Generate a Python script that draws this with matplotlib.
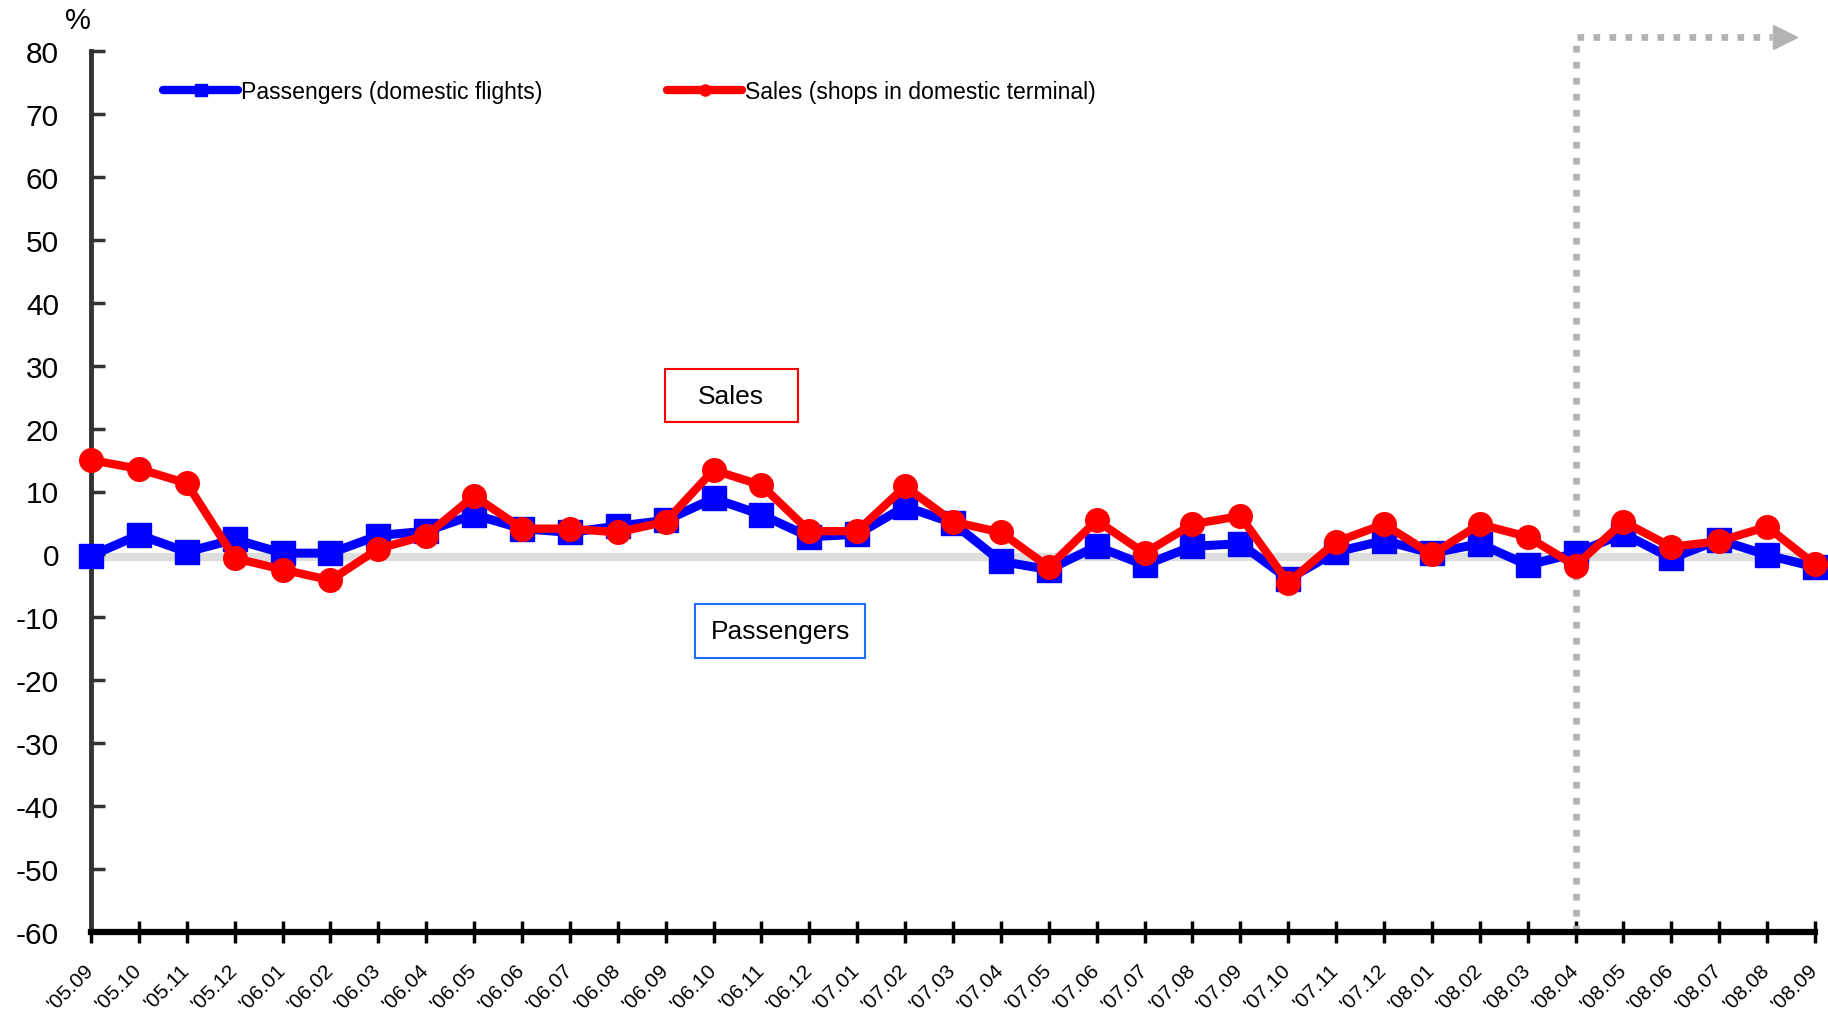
import numpy as np
import matplotlib
matplotlib.use('Agg')
import matplotlib.pyplot as plt
from matplotlib.lines import Line2D
from matplotlib.patches import Rectangle

plt.rcParams['font.family'] = ['Liberation Sans', 'DejaVu Sans']
plt.rcParams['axes.unicode_minus'] = False

# 月別データ（前年同月比, %）
months = ["'05.09", "'05.10", "'05.11", "'05.12",
          "'06.01", "'06.02", "'06.03", "'06.04", "'06.05", "'06.06",
          "'06.07", "'06.08", "'06.09", "'06.10", "'06.11", "'06.12",
          "'07.01", "'07.02", "'07.03", "'07.04", "'07.05", "'07.06",
          "'07.07", "'07.08", "'07.09", "'07.10", "'07.11", "'07.12",
          "'08.01", "'08.02", "'08.03", "'08.04", "'08.05", "'08.06",
          "'08.07", "'08.08", "'08.09"]
passengers = [-0.2, 3.1, 0.4, 2.4, 0.2, 0.2, 3.0, 3.7, 6.3, 4.1,
              3.5, 4.5, 5.4, 8.9, 6.3, 2.8, 3.2, 7.6, 5.0, -1.1,
              -2.4, 1.3, -1.7, 1.3, 1.7, -3.9, 0.4, 2.2, 0.2, 1.7,
              -1.7, 0.2, 3.3, -0.6, 2.3, -0.1, -2.0]
sales = [15.0, 13.6, 11.3, -0.6, -2.4, -4.1, 0.9, 3.0, 9.3, 4.1,
         4.1, 3.5, 5.2, 13.4, 11.0, 3.7, 3.7, 10.8, 5.2, 3.5,
         -2.0, 5.4, 0.2, 4.8, 6.1, -4.5, 2.0, 4.8, 0.0, 4.8,
         2.8, -1.8, 5.2, 1.2, 2.1, 4.4, -1.6]
yticks = list(range(-60, 81, 10))
split_month = 31  # '08.04 以降

W, H = 1828, 1020
fig = plt.figure(figsize=(W / 100, H / 100), dpi=100)
ax = fig.add_axes([91 / W, 1 - 933 / H, (1815 - 91) / W, (933 - 52) / H])

x = np.arange(len(months))
ax.axhline(-0.4, color='#DDDDDD', lw=6, zorder=1)
ax.plot(x, passengers, color='#0000FF', lw=6.5, marker='s', ms=17,
        zorder=4, clip_on=False)
ax.plot(x, sales, color='#FF0000', lw=6, marker='o', ms=17,
        zorder=5, clip_on=False)

# 点線の矢印
ax.plot([split_month, split_month, 35.1], [-60, 82.2, 82.2], color='#B3B3B3',
        lw=4.8, ls=(0, (1, 1.4)), clip_on=False, zorder=2)
ax.plot(35.37, 82.2, marker='>', ms=17, color='#B3B3B3', clip_on=False, zorder=2)

ax.set_xlim(0, 36)
ax.set_ylim(-60, 80)
ax.set_yticks(yticks)
ax.set_xticks(x)
ax.set_xticklabels(months, rotation=45, ha='right', va='center',
                   rotation_mode='anchor', fontsize=15)

for s in ['top', 'right']:
    ax.spines[s].set_visible(False)
ax.spines['left'].set_color('#333333')
ax.spines['left'].set_linewidth(3.5)
ax.spines['bottom'].set_color('black')
ax.spines['bottom'].set_linewidth(4.5)
ax.spines['bottom'].set_zorder(6)
ax.tick_params(axis='y', direction='in', length=10, width=2.5,
               color='#333333', labelsize=21.5, pad=23)
ax.tick_params(axis='x', direction='inout', length=16, width=2.5,
               color='black', pad=17)

# ラベル枠
ax.add_patch(Rectangle((11.99, 21.0), 2.77, 8.4, facecolor='white',
                       edgecolor='#FF0000', lw=1.5, zorder=3))
ax.text(13.37, 25.2, 'Sales', fontsize=19, ha='center', va='center', zorder=3)
ax.add_patch(Rectangle((12.61, -16.4), 3.55, 8.6, facecolor='white',
                       edgecolor='#1E6EFF', lw=1.5, zorder=3))
ax.text(14.39, -12.1, 'Passengers', fontsize=19, ha='center', va='center', zorder=3)

fig.text(78 / W, 1 - 21 / H, '%', fontsize=21, ha='center', va='center')

# 凡例
h1 = Line2D([], [], color='#0000FF', lw=6, marker='s', ms=8, solid_capstyle='round')
h2 = Line2D([], [], color='#FF0000', lw=6, marker='o', ms=8, solid_capstyle='round')
fs = 16.6
hl = 75 / (fs * 100 / 72)
fig.legend([h1], ['Passengers (domestic flights)'], loc='center left',
           bbox_to_anchor=(163 / W, 1 - 93 / H), frameon=False, fontsize=fs,
           handlelength=hl, handletextpad=0.15, borderpad=0, borderaxespad=0)
fig.legend([h2], ['Sales (shops in domestic terminal)'], loc='center left',
           bbox_to_anchor=(667 / W, 1 - 93 / H), frameon=False, fontsize=fs,
           handlelength=hl, handletextpad=0.15, borderpad=0, borderaxespad=0)

fig.savefig('out.png', dpi=100, facecolor='white')
